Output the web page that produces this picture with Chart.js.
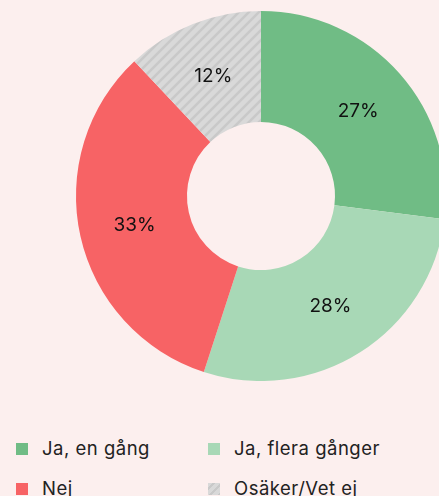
<!DOCTYPE html>
<html>
<head>
<meta charset="utf-8">
<script src="https://cdn.jsdelivr.net/npm/chart.js@4"></script>
<style>
  html, body { margin: 0; padding: 0; background: #fcefee; width: 439px; height: 496px; overflow: hidden; }
  #wrap { position: absolute; left: 0; top: 11px; width: 522px; height: 370px; }
  #legend { position: absolute; left: 16px; top: 437px; width: 420px; font-family: Inter, sans-serif; font-size: 18.5px; line-height: 22px; color: #222; letter-spacing: 0.5px; }
  .item { position: absolute; white-space: nowrap; }
  .box { position: absolute; left: 0; top: 6px; width: 12px; height: 12px; }
  .lbl { position: absolute; left: 26px; top: 0; }
</style>
</head>
<body>
<div id="wrap"><canvas id="chart"></canvas></div>
<div id="legend"></div>
<script>
const labels = ['Ja, en gång', 'Ja, flera gånger', 'Nej', 'Osäker/Vet ej'];
const values = [27, 28, 33, 12];
const colors = ['#70bc85', '#a8d8b6', '#f76365', null];

// hatched fill for the last slice
const makeHatch = () => {
  const c = document.createElement('canvas');
  c.width = 10; c.height = 10;
  const g = c.getContext('2d');
  g.fillStyle = '#d9d9d9';
  g.fillRect(0, 0, 10, 10);
  g.strokeStyle = '#c9c9c9';
  g.lineWidth = 2.5;
  g.beginPath();
  g.moveTo(-5, 5); g.lineTo(5, -5);
  g.moveTo(0, 10); g.lineTo(10, 0);
  g.moveTo(5, 15); g.lineTo(15, 5);
  g.stroke();
  return g.createPattern(c, 'repeat');
};

const ctx = document.getElementById('chart').getContext('2d');
const fills = colors.map((c) => c || makeHatch());

const pctLabels = {
  id: 'pctLabels',
  afterDatasetsDraw(chart) {
    const { ctx } = chart;
    const meta = chart.getDatasetMeta(0).data;
    ctx.save();
    ctx.fillStyle = '#111';
    ctx.font = '19px Inter, sans-serif';
    ctx.textAlign = 'center';
    ctx.textBaseline = 'middle';
    meta.forEach((arc, i) => {
      const p = arc.tooltipPosition();
      ctx.fillText(values[i] + '%', p.x, p.y + 1);
    });
    ctx.restore();
  },
};

new Chart(ctx, {
  type: 'doughnut',
  data: {
    labels,
    datasets: [{ data: values, backgroundColor: fills, borderWidth: 0 }],
  },
  options: {
    responsive: true,
    maintainAspectRatio: false,
    animation: false,
    cutout: '40%',
    layout: { padding: 0 },
    plugins: { legend: { display: false }, tooltip: { enabled: false } },
  },
  plugins: [pctLabels],
});

// two column legend
const legend = document.getElementById('legend');
labels.forEach((l, i) => {
  const item = document.createElement('div');
  item.className = 'item';
  item.style.left = (i % 2) * 192 + 'px';
  item.style.top = Math.floor(i / 2) * 40 + 'px';
  const box = document.createElement('div');
  box.className = 'box';
  if (colors[i]) box.style.background = colors[i];
  else box.style.background = 'repeating-linear-gradient(-45deg, #c9c9c9 0 2px, #d9d9d9 2px 6px)';
  const t = document.createElement('div');
  t.className = 'lbl';
  t.textContent = l;
  item.appendChild(box);
  item.appendChild(t);
  legend.appendChild(item);
});
</script>
</body>
</html>
